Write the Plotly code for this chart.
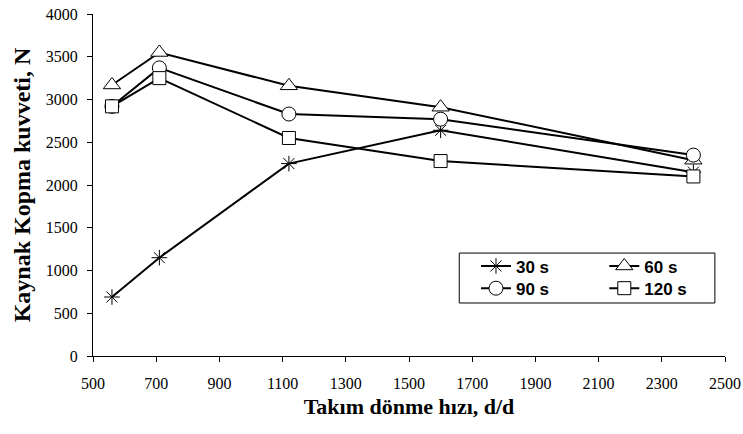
import plotly.graph_objects as go

rpm = [560, 710, 1120, 1600, 2400]
s30 = [690, 1150, 2250, 2640, 2150]
s60 = [3170, 3550, 3160, 2910, 2290]
s90 = [2920, 3370, 2830, 2770, 2350]
s120 = [2920, 3250, 2550, 2280, 2100]

names = ["30 s", "60 s", "90 s", "120 s"]
series = [s30, s60, s90, s120]
symbols = ["asterisk-open", "triangle-up", "circle", "square"]
fills = ["black", "white", "white", "white"]
sizes = [13, 15, 14, 13]
legends = ["legend", "legend2", "legend3", "legend4"]

fig = go.Figure()
for nm, ys, sym, fc, sz, lg in zip(names, series, symbols, fills, sizes, legends):
    fig.add_trace(go.Scatter(
        x=rpm, y=ys, name=nm, mode="lines+markers", legend=lg,
        line=dict(color="black", width=2),
        marker=dict(symbol=sym, size=sz, color=fc,
                    line=dict(color="black", width=1)),
    ))

legfont = dict(family="Liberation Sans, Arial", size=17, color="black", weight="bold")
def leg(x, y):
    return dict(x=x, y=y, xanchor="left", yanchor="middle",
                bgcolor="rgba(0,0,0,0)", borderwidth=0, font=legfont,
                tracegroupgap=0)

fig.update_layout(
    width=743, height=434,
    margin=dict(l=93, r=18, t=14, b=78),
    plot_bgcolor="white", paper_bgcolor="white",
    showlegend=True,
    legend=leg(0.606, 0.262),
    legend2=leg(0.809, 0.262),
    legend3=leg(0.606, 0.197),
    legend4=leg(0.809, 0.197),
    shapes=[dict(type="rect", xref="paper", yref="paper",
                 x0=0.5795, x1=0.984, y0=0.155, y1=0.301,
                 line=dict(color="black", width=1), fillcolor="white", layer="below")],
    xaxis=dict(
        range=[500, 2500], tickvals=list(range(500, 2501, 200)), automargin=False,
        showgrid=False, zeroline=False, showline=True, linecolor="black", linewidth=1,
        ticks="outside", ticklen=5, tickcolor="black", ticklabelstandoff=8,
        tickfont=dict(family="Liberation Serif, Times New Roman", size=16, color="black"),
        title=dict(text="<b>Takım dönme hızı, d/d</b>", standoff=7,
                   font=dict(family="Liberation Serif, Times New Roman", size=22, color="black")),
    ),
    yaxis=dict(
        range=[0, 4000], tickvals=list(range(0, 4001, 500)), automargin=False,
        showgrid=False, zeroline=False, showline=True, linecolor="black", linewidth=1,
        ticks="outside", ticklen=5, tickcolor="black", ticklabelstandoff=6,
        tickfont=dict(family="Liberation Serif, Times New Roman", size=16, color="black"),
        title=dict(text="<b>Kaynak Kopma kuvveti, N</b>", standoff=8,
                   font=dict(family="Liberation Serif, Times New Roman", size=24, color="black")),
    ),
)

fig.write_html("out.html")
